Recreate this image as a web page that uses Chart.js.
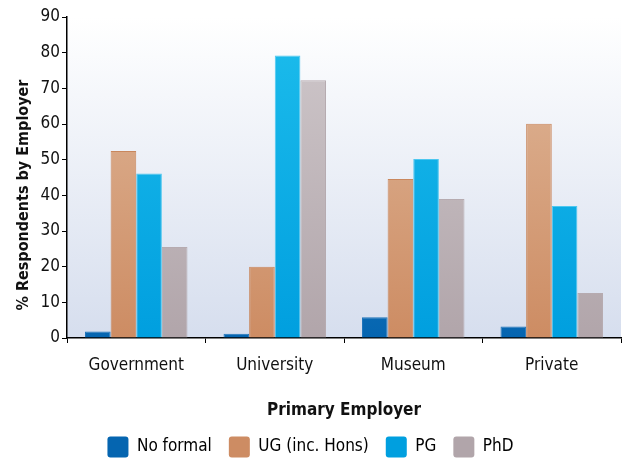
<!DOCTYPE html>
<html>
<head>
<meta charset="utf-8">
<script src="https://cdn.jsdelivr.net/npm/chart.js@4.4.1/dist/chart.umd.min.js"></script>
<style>
  html, body { margin: 0; padding: 0; background: #fff; }
  #wrap { width: 625px; height: 459px; }
</style>
</head>
<body>
<div id="wrap"><canvas id="chart"></canvas></div>
<script>
var employers = ["Government", "University", "Museum", "Private"];
var seriesNames = ["No formal", "UG (inc. Hons)", "PG", "PhD"];
var noFormal = [1.8, 1.2, 5.8, 3.2];
var ugHons = [52.4, 20, 44.6, 60.1];
var pg = [46.1, 79.2, 50.2, 37];
var phd = [25.5, 72.3, 39, 12.6];
var yTicks = [0, 10, 20, 30, 40, 50, 60, 70, 80, 90];

var family = "'DejaVu Sans Condensed', 'Liberation Sans Narrow', sans-serif";

// top colour, bottom colour, outline
var palette = [
  ["#3590d3", "#0565b0", "#1f74bb"],
  ["#e0b99c", "#cd8c63", "#c9875d"],
  ["#1dbdec", "#009fdf", "#4cc7f0"],
  ["#d0c9cc", "#b1a5aa", "#b6abb0"],
];

function barFill(i) {
  return function (context) {
    var area = context.chart.chartArea;
    if (!area) return palette[i][1];
    var g = context.chart.ctx.createLinearGradient(0, area.top, 0, area.bottom);
    g.addColorStop(0, palette[i][0]);
    g.addColorStop(1, palette[i][1]);
    return g;
  };
}

var plotBackground = {
  id: "plotBackground",
  beforeDraw: function (chart) {
    var a = chart.chartArea;
    var ctx = chart.ctx;
    var g = ctx.createLinearGradient(0, a.top, 0, a.bottom);
    g.addColorStop(0, "#ffffff");
    g.addColorStop(1, "#d6deee");
    ctx.save();
    ctx.fillStyle = g;
    ctx.fillRect(a.left, a.top, a.right - a.left, a.bottom - a.top);
    ctx.restore();
  },
};

var values = [noFormal, ugHons, pg, phd];

new Chart(document.getElementById("chart"), {
  type: "bar",
  data: {
    labels: employers,
    datasets: seriesNames.map(function (name, i) {
      return {
        label: name,
        data: values[i],
        backgroundColor: barFill(i),
        borderColor: palette[i][2],
        borderWidth: 1,
        categoryPercentage: 0.74,
        barPercentage: 1,
      };
    }),
  },
  options: {
    responsive: true,
    maintainAspectRatio: false,
    animation: false,
    layout: {
      padding: { top: 17, right: 4, left: 0, bottom: -8.5 },
    },
    plugins: {
      legend: {
        position: "bottom",
        labels: {
          boxWidth: 21,
          boxHeight: 21,
          padding: 17,
          color: "#111",
          font: { family: family, size: 17 },
          generateLabels: function (chart) {
            return chart.data.datasets.map(function (ds, i) {
              return {
                text: ds.label,
                fillStyle: palette[i][1],
                strokeStyle: palette[i][1],
                lineWidth: 0,
                borderRadius: 3,
                datasetIndex: i,
              };
            });
          },
        },
      },
      tooltip: { enabled: false },
    },
    scales: {
      x: {
        grid: {
          display: true,
          drawOnChartArea: false,
          drawTicks: true,
          tickLength: 5,
          color: "#000",
          offset: true,
        },
        border: { color: "#000", width: 1.5 },
        ticks: {
          color: "#111",
          padding: 12,
          font: { family: family, size: 17 },
        },
        title: {
          display: true,
          text: "Primary Employer",
          color: "#111",
          font: { family: family, size: 17, weight: "bold", lineHeight: 1 },
          padding: { top: 0, bottom: 0 },
        },
        afterFit: function (scale) {
          scale.height = 81.5;
        },
      },
      y: {
        min: 0,
        max: 90,
        afterBuildTicks: function (scale) {
          scale.ticks = yTicks.map(function (v) {
            return { value: v };
          });
        },
        grid: {
          display: true,
          drawOnChartArea: false,
          drawTicks: true,
          tickLength: 5,
          color: "#000",
        },
        border: { color: "#000", width: 1.5 },
        ticks: {
          color: "#111",
          padding: 2,
          font: { family: family, size: 17 },
        },
        title: {
          display: true,
          // trailing spaces push the rotated title down, as in the original
          text: "% Respondents by Employer\u00a0\u00a0\u00a0\u00a0\u00a0\u00a0\u00a0",
          color: "#111",
          font: { family: family, size: 16, weight: "bold", lineHeight: 1.2 },
          padding: { top: 14, bottom: 0 },
        },
        afterFit: function (scale) {
          scale.width = 67;
        },
      },
    },
  },
  plugins: [plotBackground],
});
</script>
</body>
</html>
